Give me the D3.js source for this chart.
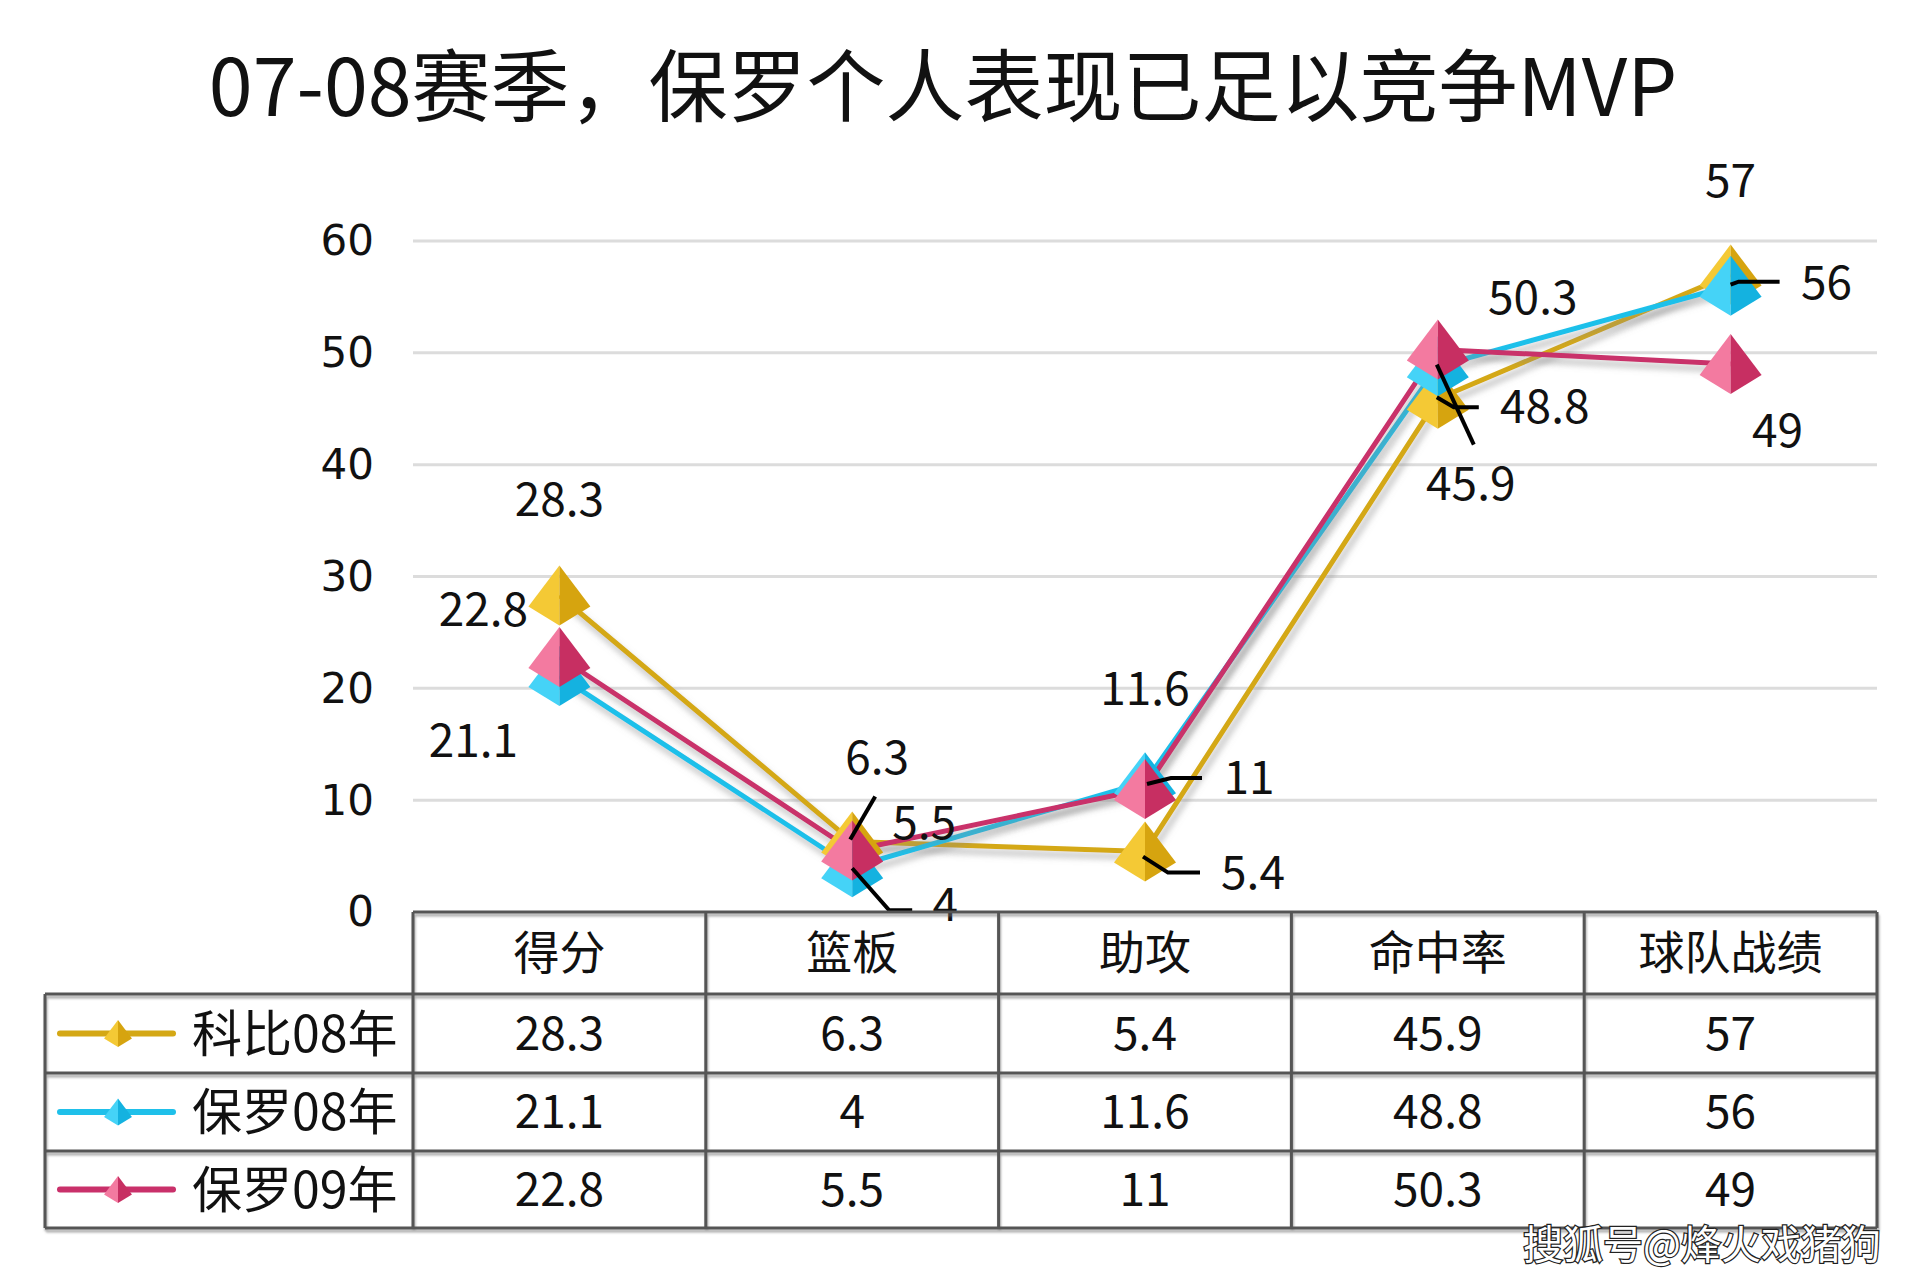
<!DOCTYPE html>
<html>
<head>
<meta charset="utf-8">
<script src="https://cdn.jsdelivr.net/npm/d3@7/dist/d3.min.js"></script>
<style>
html,body{margin:0;padding:0;background:#fff;}
svg{display:block;}
</style>
</head>
<body>
<svg id="chart" width="1920" height="1280"></svg>
<script>
// ---------- data ----------
const title = "07-08赛季，保罗个人表现已足以竞争MVP";
const categories = ["得分", "篮板", "助攻", "命中率", "球队战绩"];
const seriesNames = ["科比08年", "保罗08年", "保罗09年"];
const kobe08 = [28.3, 6.3, 5.4, 45.9, 57];
const paul08 = [21.1, 4, 11.6, 48.8, 56];
const paul09 = [22.8, 5.5, 11, 50.3, 49];
const yTicks = [0, 10, 20, 30, 40, 50, 60];
const watermark = "搜狐号@烽火戏猪狗";

(function(){
// ---------- layout / style ----------
const colors = [
  {line:"#D4A815", light:"#F4C935", dark:"#D6A40F"},
  {line:"#1FC0EA", light:"#45D3F7", dark:"#14B2E0"},
  {line:"#C9306A", light:"#F37AA0", dark:"#C72F62"}
];
const labelLayout = [
  [ {d:[0,-96]}, {d:[25,-84], lead:[[-2,-2],[23,-45]]}, {d:[108,21], lead:[[-2,5],[23,21],[55,21]]}, {d:[33,85], lead:[[-1,-34],[36,46]]}, {d:[0,-94]} ],
  [ {d:[-86,65]}, {d:[93,38], lead:[[0,1],[37,43],[60,43]]}, {d:[0,-93]}, {d:[107,41], lead:[[-1,31],[16,41],[41,41]]}, {d:[96,-3], lead:[[0,-1],[8,-4],[49,-4]]} ],
  [ {d:[-76,-47]}, {d:[72,-27]}, {d:[104,-11], lead:[[2,-5],[26,-11],[57,-11]]}, {d:[95,-51]}, {d:[47,67]} ]
];
const textShift = -4;

const svg = d3.select("#chart");
const defs = svg.append("defs");
const f = defs.append("filter").attr("id","shadow").attr("x","-20%").attr("y","-20%").attr("width","140%").attr("height","140%");
f.append("feDropShadow").attr("dx",3).attr("dy",6).attr("stdDeviation",3)
  .attr("flood-color","#888").attr("flood-opacity",0.55);
const tf = defs.append("filter").attr("id","tshadow").attr("x","-5%").attr("y","-20%").attr("width","110%").attr("height","160%");
tf.append("feDropShadow").attr("dx",1).attr("dy",3).attr("stdDeviation",1.2)
  .attr("flood-color","#777").attr("flood-opacity",0.6);

const pLeft = 413, pRight = 1877, pTop = 241, pBottom = 912;
const x = d3.scaleBand().domain(categories).range([pLeft, pRight]).padding(0);
const y = d3.scaleLinear().domain([0, 60]).range([pBottom, pTop]);
const cx = c => x(c) + x.bandwidth()/2;

const font = "'Noto Sans CJK SC', 'Noto Sans', sans-serif";

// title
svg.append("text").attr("x", 943).attr("y", 81)
  .attr("text-anchor","middle").attr("dominant-baseline","central")
  .attr("font-family", font).attr("font-size", 79).attr("fill","#111")
  .text(title);

// gridlines
svg.append("g").selectAll("line").data(yTicks.filter(t=>t>0)).join("line")
  .attr("x1", pLeft).attr("x2", pRight)
  .attr("y1", d=>y(d)).attr("y2", d=>y(d))
  .attr("stroke","#DCDCDC").attr("stroke-width",3);

// y axis labels
const yAxis = d3.axisLeft(y).tickValues(yTicks).tickSize(0).tickPadding(0);
const ya = svg.append("g").attr("transform", `translate(374,0)`).call(yAxis);
ya.select(".domain").remove();
ya.selectAll("text").attr("font-family","'DejaVu Sans', sans-serif").attr("font-size",42)
  .attr("fill","#111").attr("dy","0.33em");

function pyramid(g, s, col){
  const w = 31*s, h = 30*s, m = 11*s;
  g.append("path").attr("d", `M0,${-h} L${-w},${m} L0,${h} Z`).attr("fill", col.light);
  g.append("path").attr("d", `M0,${-h} L${w},${m} L0,${h} Z`).attr("fill", col.dark);
}

const allSeries = [kobe08, paul08, paul09];
const line = d3.line().x((d,i)=>cx(categories[i])).y(d=>y(d));

allSeries.forEach((vals, si) => {
  svg.append("path").datum(vals).attr("d", line)
    .attr("fill","none").attr("stroke", colors[si].line).attr("stroke-width",5)
    .attr("stroke-linejoin","round").attr("filter","url(#shadow)");
});
allSeries.forEach((vals, si) => {
  vals.forEach((v,i) => {
    const g = svg.append("g").attr("transform", `translate(${cx(categories[i])},${y(v)})`);
    pyramid(g, 1, colors[si]);
  });
});

allSeries.forEach((vals, si) => {
  vals.forEach((v,i) => {
    const px = cx(categories[i]), py = y(v);
    const L = labelLayout[si][i];
    if (L.lead) {
      svg.append("path").datum(L.lead)
        .attr("d", d3.line().x(p=>px+p[0]).y(p=>py+p[1]))
        .attr("fill","none").attr("stroke","#000").attr("stroke-width",4);
    }
    svg.append("text").attr("x", px + L.d[0]).attr("y", py + L.d[1] + textShift)
      .attr("text-anchor","middle").attr("dominant-baseline","central")
      .attr("font-family", font).attr("font-size",46).attr("fill","#111")
      .text(v);
  });
});

// ---------- data table ----------
const rowTop = [912, 994, 1073, 1151, 1228];
const tableLeft = 45;
const tg = svg.append("g").attr("filter","url(#tshadow)");
const bc = "#555", bw = 3;
tg.append("line").attr("x1", pLeft).attr("x2", pRight).attr("y1", rowTop[0]).attr("y2", rowTop[0]).attr("stroke",bc).attr("stroke-width",bw);
for (let r = 1; r < rowTop.length; r++) {
  tg.append("line").attr("x1", tableLeft).attr("x2", pRight).attr("y1", rowTop[r]).attr("y2", rowTop[r]).attr("stroke",bc).attr("stroke-width",bw);
}
const vx = categories.map(c=>x(c)).concat([pRight]);
vx.forEach(xx => {
  tg.append("line").attr("x1", xx).attr("x2", xx).attr("y1", rowTop[0]).attr("y2", rowTop[4]).attr("stroke",bc).attr("stroke-width",bw);
});
tg.append("line").attr("x1", tableLeft).attr("x2", tableLeft).attr("y1", rowTop[1]).attr("y2", rowTop[4]).attr("stroke",bc).attr("stroke-width",bw);

svg.append("g").selectAll("text").data(categories).join("text")
  .attr("x", d=>cx(d)).attr("y", (rowTop[0]+rowTop[1])/2 + textShift)
  .attr("text-anchor","middle").attr("dominant-baseline","central")
  .attr("font-family", font).attr("font-size",46).attr("fill","#111")
  .text(d=>d);

allSeries.forEach((vals, si) => {
  const ry = (rowTop[si+1] + rowTop[si+2]) / 2;
  svg.append("line").attr("x1", 60).attr("x2", 173).attr("y1", ry).attr("y2", ry)
    .attr("stroke", colors[si].line).attr("stroke-width",6).attr("stroke-linecap","round");
  const g = svg.append("g").attr("transform", `translate(118,${ry})`);
  pyramid(g, 0.45, colors[si]);
  svg.append("text").attr("x", 192).attr("y", ry + textShift)
    .attr("dominant-baseline","central")
    .attr("font-family", font).attr("font-size",50).attr("fill","#111")
    .text(seriesNames[si]);
  svg.append("g").selectAll("text").data(vals).join("text")
    .attr("x", (d,i)=>cx(categories[i])).attr("y", ry + textShift)
    .attr("text-anchor","middle").attr("dominant-baseline","central")
    .attr("font-family", font).attr("font-size",46).attr("fill","#111")
    .text(d=>d);
});

svg.append("text").attr("x", 1702).attr("y", 1242)
  .attr("text-anchor","middle").attr("dominant-baseline","central")
  .attr("font-family", font).attr("font-size",40)
  .attr("fill","#fff").attr("stroke","#222").attr("stroke-width",2.5)
  .attr("paint-order","stroke")
  .text(watermark);
})();
</script>
</body>
</html>
